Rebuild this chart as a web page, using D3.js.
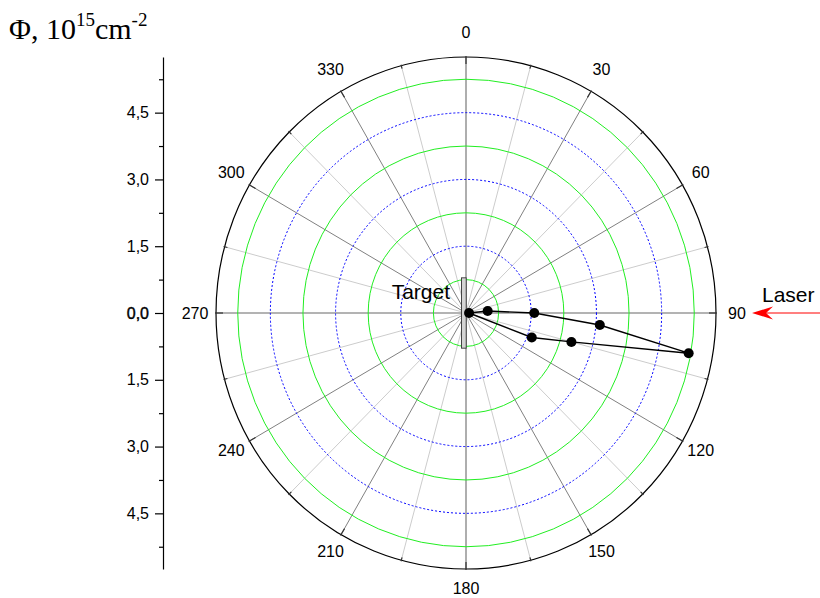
<!DOCTYPE html>
<html><head><meta charset="utf-8">
<script src="https://cdn.jsdelivr.net/npm/d3@7"></script>
<style>body{margin:0;background:#fff}svg{display:block}</style>
</head><body>
<script>
// ---- data ----
const angleDeg = [90, 85, 90, 95, 100, 105, 110];        // polar angle, degrees clockwise from top
const fluence  = [0.07, 0.50, 1.57, 3.09, 5.20, 2.51, 1.61]; // Φ, 10^15 cm^-2
const angleTicks = [0, 30, 60, 90, 120, 150, 180, 210, 240, 270, 300, 330];
const radialMajor = [-4.5, -3.0, -1.5, 0, 1.5, 3.0, 4.5];
const radialMinor = [-5.25, -3.75, -2.25, -0.75, 0.75, 2.25, 3.75, 5.25];
const gridGreen = [0.75, 2.25, 3.75, 5.25];
const gridBlue = [1.5, 3.0, 4.5];
const rMax = 5.75;

const W = 820, H = 598;
const cx = 466, cy = 313, RX = 250, RY = 256;
const svg = d3.select("body").append("svg").attr("width", W).attr("height", H);

const sx = d3.scaleLinear().domain([0, rMax]).range([0, RX]);
const sy = d3.scaleLinear().domain([0, rMax]).range([0, RY]);
const rad = d => d * Math.PI / 180;
const px = (a, r) => cx + sx(r) * Math.sin(rad(a));
const py = (a, r) => cy - sy(r) * Math.cos(rad(a));

// spokes
const spokes = d3.range(0, 360, 15);
svg.append("g").selectAll("line").data(spokes).join("line")
  .attr("x1", cx).attr("y1", cy)
  .attr("x2", d => px(d, rMax)).attr("y2", d => py(d, rMax))
  .attr("stroke", d => d % 90 === 0 ? "#9a9a9a" : (d % 30 === 0 ? "#808080" : "#cccccc"))
  .attr("stroke-width", d => d % 90 === 0 ? 1.6 : 1);

// grid circles
svg.append("g").selectAll("ellipse").data(gridGreen).join("ellipse")
  .attr("cx", cx).attr("cy", cy).attr("rx", d => sx(d)).attr("ry", d => sy(d))
  .attr("fill", "none").attr("stroke", "#22ee22").attr("stroke-width", 1);
svg.append("g").selectAll("ellipse").data(gridBlue).join("ellipse")
  .attr("cx", cx).attr("cy", cy).attr("rx", d => sx(d)).attr("ry", d => sy(d))
  .attr("fill", "none").attr("stroke", "#0000ff").attr("stroke-width", 1).attr("stroke-dasharray", "2,2");
// outer circle
svg.append("ellipse").attr("cx", cx).attr("cy", cy).attr("rx", sx(rMax)).attr("ry", sy(rMax))
  .attr("fill", "none").attr("stroke", "#000").attr("stroke-width", 1.2);

// angular ticks on outer circle
svg.append("g").selectAll("line").data(spokes).join("line")
  .attr("x1", d => cx + (sx(rMax) - (d % 30 === 0 ? 7 : 3)) * Math.sin(rad(d)))
  .attr("y1", d => cy - (sy(rMax) - (d % 30 === 0 ? 7 : 3)) * Math.cos(rad(d)))
  .attr("x2", d => cx + (sx(rMax) + 1) * Math.sin(rad(d)))
  .attr("y2", d => cy - (sy(rMax) + 1) * Math.cos(rad(d)))
  .attr("stroke", "#333").attr("stroke-width", 1.2);

// angle labels
svg.append("g").selectAll("text").data(angleTicks).join("text")
  .attr("x", d => cx + (sx(rMax) + 21) * Math.sin(rad(d)))
  .attr("y", d => cy - (sy(rMax) + (Math.cos(rad(d)) >= 0 ? 25 : 19)) * Math.cos(rad(d)))
  .attr("text-anchor", "middle").attr("dominant-baseline", "central")
  .attr("font-family", "Liberation Sans, Arial, sans-serif").attr("font-size", 16)
  .text(d => d);

// left radial axis
const axScale = d3.scaleLinear().domain([rMax, -rMax]).range([cy - RY, cy + RY]);
const fmt = v => Math.abs(v).toFixed(1).replace(".", ",");
const axG = svg.append("g").attr("transform", "translate(163,0)");
axG.call(d3.axisLeft(axScale).tickValues(radialMajor).tickFormat(fmt).tickSize(8).tickSizeOuter(0).tickPadding(6));
axG.append("g").call(d3.axisLeft(axScale).tickValues(radialMinor).tickFormat("").tickSize(4).tickSizeOuter(0))
  .select(".domain").remove();
axG.selectAll("text").attr("font-family", "Liberation Sans, Arial, sans-serif").attr("font-size", 16).attr("fill", "#000")
  .attr("stroke", d => d === 0 ? "#000" : "none").attr("stroke-width", 0.4);
axG.selectAll(".domain").attr("stroke", "#000").attr("stroke-width", 1.2);
axG.selectAll(".tick line").attr("stroke", "#000").attr("stroke-width", 1.2);

// title
const title = svg.append("text").attr("x", 9).attr("y", 39)
  .attr("font-family", "Liberation Serif, Times New Roman, serif").attr("font-size", 30).attr("fill", "#000");
title.append("tspan").text("Φ, 10");
title.append("tspan").attr("font-size", 19).attr("dy", -13).text("15");
title.append("tspan").attr("dy", 13).text("cm");
title.append("tspan").attr("font-size", 19).attr("dy", -13).text("-2");

// target
svg.append("rect").attr("x", cx - 4.5).attr("y", cy - sy(0.79)).attr("width", 4.7).attr("height", sy(0.79) * 2)
  .attr("fill", "#d4d4d4").attr("stroke", "#333").attr("stroke-width", 0.9);
svg.append("text").attr("x", 450).attr("y", 299).attr("text-anchor", "end")
  .attr("font-family", "Liberation Sans, Arial, sans-serif").attr("font-size", 21).text("Target");

// data line & markers
const pts = angleDeg.map((a, i) => [px(a, fluence[i]), py(a, fluence[i])]);
svg.append("path").attr("d", d3.line().curve(d3.curveLinearClosed)(pts))
  .attr("fill", "none").attr("stroke", "#000").attr("stroke-width", 1.4);
svg.append("g").selectAll("circle").data(pts).join("circle")
  .attr("cx", d => d[0]).attr("cy", d => d[1]).attr("r", 5).attr("fill", "#000");

// laser
svg.append("line").attr("x1", 766).attr("y1", cy).attr("x2", 820).attr("y2", cy).attr("stroke", "#ff0000").attr("stroke-width", 1.2);
svg.append("path").attr("d", `M752,${cy} L773,${cy - 6.5} L766,${cy} L773,${cy + 6.5} Z`).attr("fill", "#ff0000");
svg.append("text").attr("x", 762).attr("y", 302)
  .attr("font-family", "Liberation Sans, Arial, sans-serif").attr("font-size", 21).text("Laser");
</script>
</body></html>
